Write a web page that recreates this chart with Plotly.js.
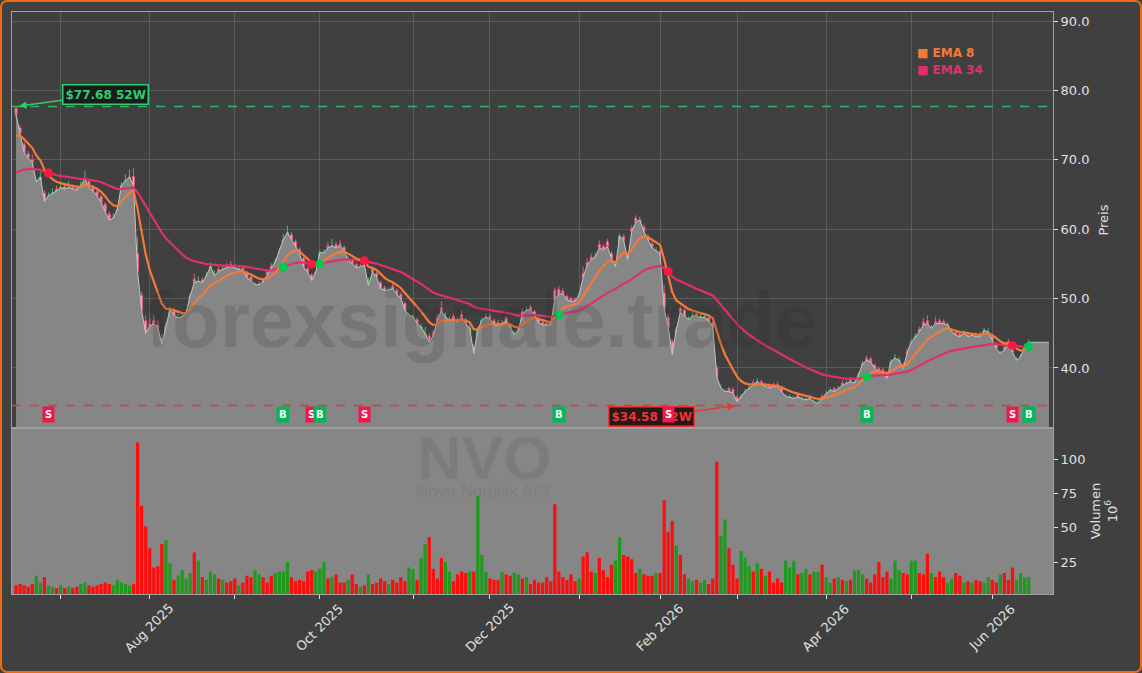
<!DOCTYPE html>
<html><head><meta charset="utf-8">
<script src="https://cdn.plot.ly/plotly-3.0.1.min.js"></script>
<style>
html,body{margin:0;padding:0;background:#404040;}
#wrap{position:relative;width:1142px;height:673px;overflow:hidden;}
#chart{width:1142px;height:673px;}
#frame{position:absolute;left:0;top:0;width:1142px;height:673px;box-sizing:border-box;border:2px solid #f26a0f;border-radius:7px;pointer-events:none;}
</style></head><body>
<div id="wrap"><div id="chart"></div><div id="frame"></div></div>
<script>
// ---------- DATA ----------
const firstDay = '2025-06-13';
const lastDay = '2026-06-12';
const marketHolidays = ['2025-06-19','2025-07-04','2025-09-01','2025-11-27','2025-12-25',
  '2026-01-01','2026-01-19','2026-02-16','2026-04-03','2026-05-25'];

const openP = [
77.4,74.6,72.2,70.9,70.0,65.9,67.0,65.2,64.2,64.9,
65.8,65.4,66.2,65.8,66.1,65.9,65.8,66.5,66.9,66.1,
65.4,64.7,63.6,62.2,61.2,61.9,64.5,66.4,67.0,67.6,
56.5,50.5,46.8,46.3,46.8,46.2,44.3,44.2,46.6,48.2,
46.9,47.0,47.5,49.2,52.8,52.0,52.7,52.8,53.8,53.0,
54.2,53.7,54.8,54.9,54.8,54.0,54.4,53.7,53.1,51.2,
51.6,52.7,53.8,54.7,54.8,55.9,57.4,58.7,59.2,58.2,
57.1,55.8,54.3,53.4,52.5,53.6,56.0,57.6,57.1,57.8,
57.9,57.4,55.1,55.6,54.9,54.2,55.2,51.4,54.2,53.6,
52.3,51.6,50.9,51.8,51.2,50.6,49.3,47.1,46.9,47.0,
45.4,44.5,44.6,45.1,47.2,48.7,46.9,46.5,47.4,47.0,
47.7,47.0,45.3,43.0,42.3,45.8,46.9,47.5,46.8,46.5,
46.0,47.1,46.2,44.4,45.0,48.1,47.9,48.7,48.1,47.1,
46.6,46.5,46.5,51.2,51.3,51.1,50.3,50.0,49.9,50.0,
53.6,55.2,56.0,55.5,57.8,57.5,58.2,56.5,54.2,56.2,
58.9,56.3,60.1,61.6,60.6,60.3,59.0,57.9,56.5,56.8,
50.8,47.3,43.8,43.6,48.6,48.3,46.6,47.1,47.8,47.0,
46.9,47.2,46.5,40.0,36.8,36.2,37.0,36.9,35.8,35.4,
36.0,36.7,37.9,37.6,38.0,37.0,37.5,37.6,37.6,37.1,
35.5,35.4,35.2,36.1,35.3,35.1,35.9,34.8,34.7,35.9,
35.8,36.3,37.0,36.6,37.8,37.4,38.4,37.5,38.4,39.9,
41.4,41.3,40.4,39.9,39.7,39.2,40.2,40.9,40.8,40.5,
42.4,43.0,44.0,45.6,46.6,46.8,45.3,46.7,46.8,46.7,
45.8,44.9,45.1,44.9,44.6,44.9,44.4,44.8,44.9,44.9,
44.8,44.5,43.5,41.7,43.0,43.8,43.3,40.8,40.9,42.2,
43.1];

const highP = [
77.68,75.0,72.6,71.3,70.8,67.2,68.2,65.6,65.3,65.9,
66.3,66.6,66.7,66.9,66.5,66.4,66.9,68.4,67.2,66.4,
65.7,65.0,63.9,62.6,62.3,63.4,66.8,67.9,68.6,68.9,
58.9,51.0,47.5,47.2,47.6,46.9,44.9,46.6,48.8,48.6,
47.8,48.0,48.5,50.8,53.6,53.2,53.1,53.8,55.2,54.1,
54.6,54.8,55.1,55.4,55.0,54.8,54.7,54.0,53.4,52.4,
52.5,53.0,54.2,55.1,55.8,57.3,59.3,60.5,59.6,58.5,
57.4,56.1,54.6,53.7,54.0,57.0,57.1,58.2,58.6,58.2,
58.4,57.7,56.2,55.9,55.2,55.0,55.6,53.0,54.6,53.9,
52.6,51.9,51.6,52.2,51.5,50.9,49.6,48.0,47.8,47.3,
46.4,45.9,45.0,45.5,47.8,49.6,48.0,47.4,47.8,47.3,
48.3,47.3,46.2,43.4,45.9,47.3,47.8,47.9,47.1,46.9,
46.9,47.5,46.5,45.3,45.9,48.6,48.8,49.1,48.4,47.4,
46.9,46.9,46.8,51.6,51.8,51.5,50.6,50.3,50.2,50.9,
54.6,55.8,56.5,56.6,58.4,57.9,58.6,56.9,55.2,59.4,
59.3,56.7,60.6,62.0,61.8,60.7,59.3,58.2,57.4,57.2,
52.0,47.8,44.2,45.9,49.0,48.6,47.5,48.0,48.1,47.8,
47.7,47.5,46.8,40.4,37.6,37.0,37.3,37.2,36.1,36.3,
37.0,37.5,38.3,38.5,38.3,37.7,37.8,37.9,38.0,37.4,
36.3,36.2,36.0,36.4,36.0,35.8,36.2,35.5,35.4,36.3,
36.7,37.2,37.3,37.4,38.2,38.2,38.7,38.2,39.4,41.0,
41.8,41.6,40.7,40.2,40.0,39.5,41.3,42.0,41.6,40.8,
42.9,44.1,45.0,46.0,47.2,47.6,46.2,47.4,47.1,47.0,
46.6,45.7,45.4,45.2,45.4,45.2,45.1,45.1,45.2,45.8,
45.7,44.8,43.8,42.5,43.3,44.2,43.5,41.6,42.0,43.4,
44.1];

const lowP = [
75.9,73.5,70.6,69.8,69.0,65.5,66.6,63.7,63.9,64.6,
65.0,65.2,65.4,65.5,65.3,65.2,65.6,66.3,65.8,65.2,
64.4,63.6,62.2,61.0,60.9,61.7,64.2,66.1,66.7,66.0,
53.2,47.6,44.6,45.3,45.8,45.2,43.0,43.9,46.3,47.2,
46.6,46.8,47.2,48.9,51.6,51.7,51.9,52.5,53.6,52.7,
53.5,53.5,54.0,54.2,54.0,53.8,53.6,52.7,52.2,50.9,
51.3,52.0,53.1,53.9,54.5,55.6,57.1,58.4,58.1,57.0,
56.1,54.2,53.4,52.2,52.3,53.3,55.7,56.9,56.8,56.9,
57.2,56.5,54.8,54.7,54.0,53.9,54.4,51.0,53.4,52.7,
51.1,50.8,50.6,51.1,50.2,49.7,48.0,46.8,46.6,46.0,
45.1,44.2,43.4,44.3,46.1,47.8,46.6,46.2,46.7,46.2,
46.9,46.0,45.0,41.6,42.0,45.5,46.6,46.8,45.9,45.8,
45.7,46.4,45.3,44.1,44.7,47.3,47.6,48.0,47.2,46.2,
45.9,45.8,45.9,49.6,50.2,50.3,49.5,49.2,49.2,49.7,
52.5,54.3,55.2,55.2,56.9,56.6,57.1,55.4,53.9,55.9,
58.0,55.2,59.2,60.6,60.3,59.3,58.0,56.9,56.2,56.0,
48.0,45.5,41.5,43.3,47.6,47.2,46.3,46.8,47.1,46.7,
46.6,46.4,45.5,38.2,36.4,35.9,36.2,36.0,34.58,35.1,
35.7,36.4,37.3,37.3,37.3,36.7,36.8,37.0,37.0,36.3,
35.2,35.1,34.9,35.5,35.0,34.8,35.3,34.6,34.6,35.3,
35.5,36.0,36.3,36.3,37.2,37.1,37.7,37.2,38.1,39.6,
40.7,40.5,39.5,39.1,38.9,38.2,39.9,40.6,40.5,39.6,
41.6,42.7,43.7,44.8,45.8,46.0,45.0,46.0,46.0,46.0,
45.5,44.6,44.4,44.2,44.3,44.2,44.1,44.2,44.2,44.6,
44.5,43.7,42.5,41.4,42.3,43.2,41.9,40.6,40.7,41.9,
42.8];

const closeP = [
76.5,73.9,71.0,70.2,69.6,66.8,67.5,64.0,64.8,65.2,
65.5,66.0,65.8,66.0,65.8,65.6,66.3,67.2,66.0,65.5,
64.8,63.9,62.5,61.3,61.6,62.8,66.3,67.0,67.5,66.3,
53.9,48.3,45.0,46.0,46.4,45.8,43.4,46.0,48.4,47.6,
47.2,47.4,48.0,50.4,52.3,52.5,52.3,53.3,54.6,53.3,
53.9,54.2,54.5,54.6,54.4,54.3,54.0,53.0,52.6,52.0,
52.0,52.4,53.5,54.4,55.3,56.8,58.5,59.5,58.5,57.3,
56.5,54.5,53.8,52.6,53.8,56.6,56.6,57.3,57.6,57.3,
57.6,56.9,55.5,55.0,54.4,54.6,54.8,51.9,53.8,53.1,
51.4,51.2,51.2,51.5,50.5,50.1,48.3,47.6,47.4,46.4,
45.9,44.9,43.7,44.7,46.8,48.3,47.3,46.9,47.1,46.6,
47.3,46.4,45.7,42.1,45.5,46.9,47.3,47.1,46.2,46.2,
46.4,46.8,45.7,44.8,45.4,47.8,48.3,48.4,47.6,46.5,
46.2,46.2,46.2,49.9,50.6,50.7,49.8,49.6,49.6,50.5,
53.1,54.8,55.6,56.0,57.3,57.0,57.5,55.8,54.6,59.0,
58.4,55.6,59.7,61.0,61.3,59.7,58.4,57.3,56.9,56.4,
48.5,45.9,41.9,45.5,48.0,47.5,47.0,47.5,47.5,47.3,
47.3,46.8,45.9,38.7,37.1,36.6,36.6,36.4,35.1,35.9,
36.6,37.1,37.6,38.0,37.6,37.3,37.1,37.3,37.3,36.6,
35.9,35.8,35.6,35.8,35.6,35.4,35.6,35.1,34.9,35.6,
36.3,36.8,36.6,37.0,37.5,37.8,38.0,37.8,39.0,40.6,
41.1,40.9,39.9,39.5,39.3,38.5,40.9,41.4,41.1,39.9,
42.1,43.7,44.5,45.2,46.2,46.4,45.7,46.4,46.4,46.4,
46.2,45.2,44.7,44.5,45.0,44.5,44.7,44.5,44.5,45.4,
45.2,44.0,42.8,42.1,42.6,43.5,42.3,41.1,41.6,43.0,
43.7];

// volume in millions
const volumeM = [
8,9,8,7,9,15,10,14,8,7,
6,8,6,7,6,7,9,10,8,7,
8,9,10,9,8,12,10,9,8,9,
112,66,51,35,21,22,38,41,24,12,
15,19,13,17,32,26,14,12,18,16,
13,12,10,11,13,8,10,15,14,19,
16,14,10,15,17,18,18,25,14,11,
12,11,18,19,18,20,25,13,14,16,
10,10,12,16,9,7,8,16,9,10,
13,11,9,12,10,14,11,21,20,12,
28,38,43,20,13,28,25,18,11,16,
18,17,18,18,73,30,18,13,12,12,
18,16,15,17,16,13,14,9,12,10,
10,14,11,67,18,14,12,16,11,13,
29,32,18,17,28,19,14,23,26,43,
30,29,27,17,20,16,15,15,17,17,
70,47,55,37,30,16,13,11,12,10,
12,9,13,98,44,56,35,23,13,33,
28,22,18,24,20,15,18,10,13,10,
26,21,26,16,17,20,16,18,18,23,
14,10,13,14,12,11,12,19,19,16,
13,10,16,25,14,18,13,26,19,17,
16,26,26,17,16,31,17,14,18,14,
10,13,17,15,10,11,10,12,11,10,
14,12,10,16,17,12,21,12,17,14,
14];

// EMA values at the first bar
const ema8Start = 73.4;
const ema34Start = 68.1;

// crossover signals
const signalIdx  = [8, 66, 73, 75, 86, 134, 161, 210, 246, 250];
const signalType = ['S','B','S','B','S','B','S','B','S','B'];

const high52 = 77.68, high52Idx = 0;
const low52 = 34.58, low52Idx = 178;
const areaEndIdx = 255;

// ---------- BUILD ----------
function tradingDays(start, end, hol) {
  const out = [];
  const h = new Set(hol);
  let d = new Date(start + 'T00:00:00Z');
  const e = new Date(end + 'T00:00:00Z');
  while (d <= e) {
    const wd = d.getUTCDay();
    const s = d.toISOString().slice(0, 10);
    if (wd !== 0 && wd !== 6 && !h.has(s)) out.push(s);
    d = new Date(d.getTime() + 86400000);
  }
  return out;
}
const dates = tradingDays(firstDay, lastDay, marketHolidays);
const N = closeP.length;
const idx = closeP.map((_, i) => i);

function ema(src, n, start) {
  const k = 2 / (n + 1);
  const out = [start];
  for (let i = 1; i < src.length; i++) out.push(out[i - 1] + k * (src[i] - out[i - 1]));
  return out;
}
const ema8 = ema(closeP, 8, ema8Start);
const ema34 = ema(closeP, 34, ema34Start);

const monNames = ['Jan','Feb','Mar','Apr','May','Jun','Jul','Aug','Sep','Oct','Nov','Dec'];
const tickVals = [], labelVals = [], labelText = [];
for (let i = 1; i < dates.length; i++) {
  if (dates[i].slice(5, 7) !== dates[i - 1].slice(5, 7)) {
    const m = parseInt(dates[i].slice(5, 7), 10) - 1;
    tickVals.push(i);
    if (m % 2 === 1) { labelVals.push(i); labelText.push(monNames[m] + ' ' + dates[i].slice(0, 4)); }
  }
}

const volColors = closeP.map((c, i) => c >= openP[i] ? '#1f9a1f' : '#ff0d0d');

const traces = [
  { type: 'scatter', mode: 'lines', x: idx.concat([areaEndIdx]), y: closeP.concat([closeP[N - 1]]),
    line: { color: '#c4c4c4', width: 1 }, fill: 'tozeroy', fillcolor: '#868686',
    xaxis: 'x', yaxis: 'y', hoverinfo: 'skip' },
  { type: 'candlestick', x: idx, open: openP, high: highP, low: lowP, close: closeP,
    increasing: { line: { color: '#45c060', width: 1 }, fillcolor: '#a6eaa6' },
    decreasing: { line: { color: '#e0587a', width: 1 }, fillcolor: '#f7b0c0' },
    whiskerwidth: 0, xaxis: 'x', yaxis: 'y' },
  { type: 'scatter', mode: 'lines', x: idx, y: ema34, line: { color: '#e0306a', width: 2.2 },
    xaxis: 'x', yaxis: 'y', name: 'EMA 34' },
  { type: 'scatter', mode: 'lines', x: idx, y: ema8, line: { color: '#f47a38', width: 2.2 },
    xaxis: 'x', yaxis: 'y', name: 'EMA 8' },
  { type: 'scatter', mode: 'markers', x: signalIdx, y: signalIdx.map(i => ema34[i]),
    marker: { size: 9, color: signalType.map(t => t === 'B' ? '#00c853' : '#ff1744') },
    xaxis: 'x', yaxis: 'y' },
  { type: 'bar', x: idx, y: volumeM, marker: { color: volColors, line: { width: 0 } }, width: 0.8,
    xaxis: 'x2', yaxis: 'y2' }
];

const gridC = '#5c5c5c', lineC = '#a0a0a0', txtC = '#e0e0e0';
const annotations = [
  { xref: 'paper', yref: 'paper', x: 0.4515, y: 0.4708, xanchor: 'center', yanchor: 'middle',
    text: '<b>forexsignale.trade</b>', showarrow: false,
    font: { family: 'Liberation Sans', size: 78, color: 'rgba(40,40,40,0.16)' } },
  { xref: 'paper', yref: 'paper', x: 0.4534, y: 0.2337, xanchor: 'center', yanchor: 'middle',
    text: '<b>NVO</b>', showarrow: false,
    font: { family: 'Liberation Sans', size: 62, color: 'rgba(60,60,60,0.12)' } },
  { xref: 'paper', yref: 'paper', x: 0.4515, y: 0.1753, xanchor: 'center', yanchor: 'middle',
    text: 'Novo Nordisk A/S', showarrow: false,
    font: { family: 'Liberation Sans', size: 17, color: 'rgba(60,60,60,0.12)' } },
  { xref: 'paper', yref: 'paper', x: 0.8674, y: 0.9296, xanchor: 'left', yanchor: 'middle',
    text: '<b>■ EMA 8</b>', showarrow: false,
    font: { family: 'DejaVu Sans', size: 12, color: '#f47a38' } },
  { xref: 'paper', yref: 'paper', x: 0.8674, y: 0.900, xanchor: 'left', yanchor: 'middle',
    text: '<b>■ EMA 34</b>', showarrow: false,
    font: { family: 'DejaVu Sans', size: 12, color: '#e0306a' } },
  { xref: 'x', yref: 'y', x: high52Idx, y: high52, text: '<b>$' + high52.toFixed(2) + ' 52W</b>',
    showarrow: true, ax: 89, ay: -12, arrowhead: 2, arrowsize: 1, arrowwidth: 1.5, arrowcolor: '#2ecc71', standoff: 3,
    font: { family: 'DejaVu Sans', size: 12, color: '#2ecc71' }, bgcolor: '#1b1b1b', bordercolor: '#2ecc71',
    borderwidth: 1.5, borderpad: 2 },
  { xref: 'x', yref: 'y', x: low52Idx, y: low52, text: '<b>$' + low52.toFixed(2) + ' 52W</b>',
    showarrow: true, ax: -86, ay: 11, arrowhead: 2, arrowsize: 1, arrowwidth: 1.5, arrowcolor: '#e53935', standoff: 2,
    font: { family: 'DejaVu Sans', size: 12, color: '#e53935' }, bgcolor: '#2a1616', bordercolor: '#e53935',
    borderwidth: 1.5, borderpad: 2 }
];
signalIdx.forEach((si, k) => {
  annotations.push({ xref: 'x', yref: 'y', x: si, y: 33.37, text: '<b>' + signalType[k] + '</b>', showarrow: false,
    font: { family: 'DejaVu Sans', size: 10, color: '#ffffff' },
    bgcolor: signalType[k] === 'B' ? '#00b85a' : '#f0184a', borderpad: 2 });
});
labelVals.forEach((v, k) => {
  annotations.push({ xref: 'x2', yref: 'paper', x: v, y: -0.0584, xanchor: 'center', yanchor: 'middle',
    text: labelText[k], textangle: -45, showarrow: false,
    font: { family: 'DejaVu Sans', size: 13, color: txtC } });
});

const layout = {
  width: 1142, height: 673,
  paper_bgcolor: '#404040', plot_bgcolor: '#404040',
  margin: { l: 12, r: 89, t: 12, b: 79 },
  showlegend: false,
  font: { family: 'DejaVu Sans', color: txtC, size: 13 },
  xaxis: { domain: [0, 1], anchor: 'y', range: [-1, 256], tickvals: tickVals,
    showticklabels: false, ticks: '', showgrid: true, gridcolor: gridC, gridwidth: 1, zeroline: false,
    showline: true, mirror: true, linecolor: lineC, linewidth: 1, rangeslider: { visible: false } },
  xaxis2: { domain: [0, 1], anchor: 'y2', range: [-1, 256], tickvals: tickVals, showticklabels: false,
    ticks: 'outside', ticklen: 4, tickcolor: txtC, showgrid: false, zeroline: false,
    showline: true, mirror: true, linecolor: lineC, linewidth: 1 },
  yaxis: { domain: [0.2852, 1], anchor: 'x', side: 'right', range: [31.35, 91.3],
    tickvals: [40, 50, 60, 70, 80, 90], tickformat: '.1f', ticks: 'outside', ticklen: 4, tickcolor: txtC,
    showgrid: true, gridcolor: gridC, zeroline: false, showline: true, mirror: true, linecolor: lineC,
    title: { text: 'Preis', standoff: 10, font: { size: 13, color: txtC } } },
  yaxis2: { domain: [0, 0.2852], anchor: 'x2', side: 'right', range: [1.7, 122.6],
    tickvals: [25, 50, 75, 100], ticks: 'outside', ticklen: 4, tickcolor: txtC,
    showgrid: false, zeroline: false, showline: true, mirror: true, linecolor: lineC,
    title: { text: 'Volumen<br>10<sup>6</sup>', standoff: 6, font: { size: 13, color: txtC } } },
  shapes: [
    { type: 'rect', xref: 'paper', yref: 'y2 domain', x0: 0, x1: 1, y0: 0, y1: 1,
      fillcolor: '#868686', line: { width: 0 }, layer: 'below' },
    { type: 'line', xref: 'paper', yref: 'y', x0: 0, x1: 1, y0: high52, y1: high52,
      line: { color: '#2fb463', width: 1.5, dash: 'dash' } },
    { type: 'line', xref: 'paper', yref: 'y', x0: 0, x1: 1, y0: low52, y1: low52,
      line: { color: '#d93a3a', width: 1.5, dash: 'dash' } }
  ],
  annotations: annotations
};

Plotly.newPlot('chart', traces, layout, { displayModeBar: false, staticPlot: true });
</script>
</body></html>
